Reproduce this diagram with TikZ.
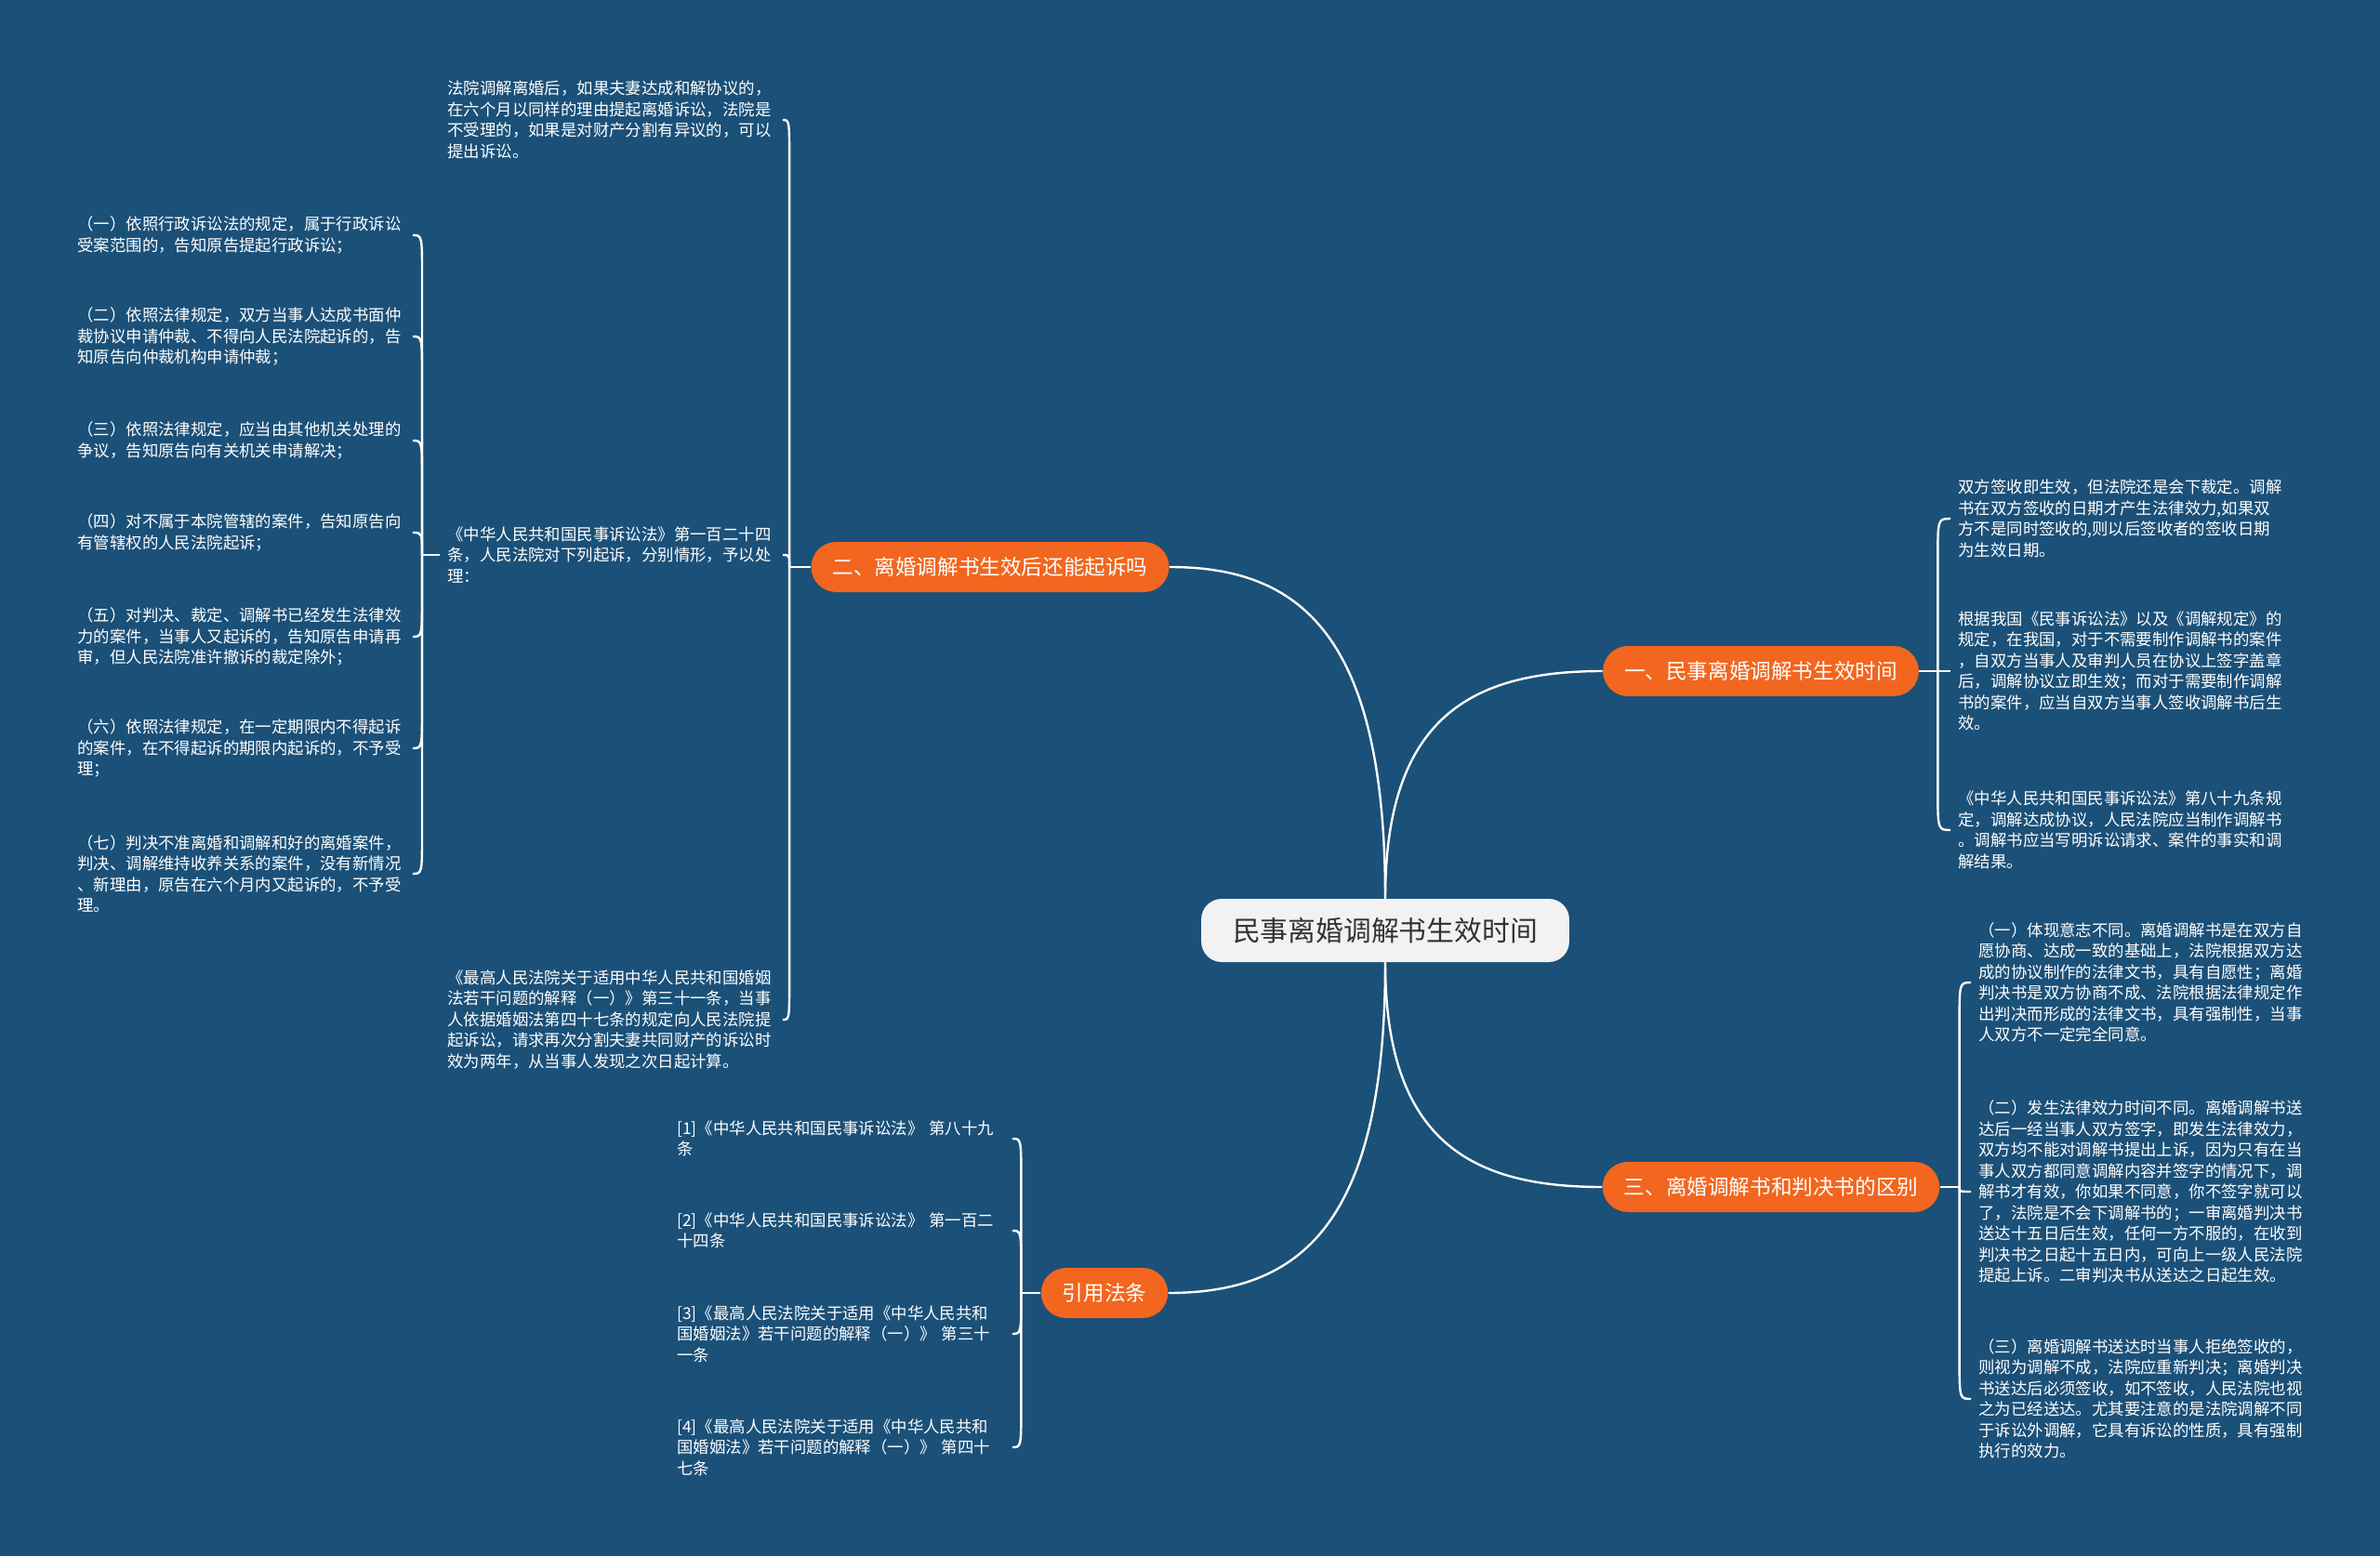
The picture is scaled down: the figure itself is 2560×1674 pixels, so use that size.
\documentclass[tikz,border=0pt]{standalone}
\usepackage{fontspec}
\newfontfamily\cjk{Noto Sans CJK SC}
\usetikzlibrary{calc}
\definecolor{bg}{HTML}{1B5078}
\definecolor{org}{HTML}{F2661F}
\definecolor{cfill}{HTML}{F2F2F2}
\definecolor{ctext}{HTML}{333333}
\newcommand\kidL[3]{\draw[conn] (#1) -- ($(#1|-#2.east)+(0,#3)$) .. controls (#1|-#2.east) .. (#2.east);}
\newcommand\kidR[3]{\draw[conn] (#1) -- ($(#1|-#2.west)+(0,#3)$) .. controls (#1|-#2.west) .. (#2.west);}
\begin{document}
\begin{tikzpicture}[x=0.5pt,y=-0.5pt,
  conn/.style={draw=white, line width=1.2pt},
  leaf/.style={anchor=west, text=white, font=\cjk\fontsize{8.7pt}{11.25pt}\selectfont, align=left, text width=176pt, inner xsep=4pt, inner ysep=0pt},
  branchbox/.style={fill=org, text=white, font=\cjk\fontsize{11.3pt}{13pt}\selectfont, rounded corners=13.5pt, minimum height=27pt, inner xsep=11.5pt, inner ysep=0pt},
  rootbox/.style={fill=cfill, text=ctext, font=\cjk\fontsize{14.9pt}{17pt}\selectfont, rounded corners=11pt, minimum height=34pt, inner xsep=17pt, inner ysep=0pt}]
\fill[bg] (0,0) rectangle (2560,1674);
\useasboundingbox (0,0) rectangle (2560,1674);

% root and branches
\node[rootbox] (c) at (1490,1001) {民事离婚调解书生效时间};
\node[branchbox] (b2) at (1065,610) {二、离婚调解书生效后还能起诉吗};
\node[branchbox] (b1) at (1894,722) {一、民事离婚调解书生效时间};
\node[branchbox] (b3) at (1905,1277) {三、离婚调解书和判决书的区别};
\node[branchbox] (bc) at (1188,1391) {引用法条};

\draw[conn] (c.north) .. controls ($(c.north)!0.8!(c.north|-b2.east)$) and ($(b2.east)!0.6!(b2.east-|c.north)$) .. (b2.east);
\draw[conn] (c.north) .. controls ($(c.north)!0.8!(c.north|-b1.west)$) and ($(b1.west)!0.6!(b1.west-|c.north)$) .. (b1.west);
\draw[conn] (c.south) .. controls ($(c.south)!0.8!(c.south|-b3.west)$) and ($(b3.west)!0.6!(b3.west-|c.south)$) .. (b3.west);
\draw[conn] (c.south) .. controls ($(c.south)!0.8!(c.south|-bc.east)$) and ($(bc.east)!0.6!(bc.east-|c.south)$) .. (bc.east);

% branch 二 children
\node[leaf] (A) at (473,129) {法院调解离婚后，如果夫妻达成和解协议的，\\在六个月以同样的理由提起离婚诉讼，法院是\\不受理的，如果是对财产分割有异议的，可以\\提出诉讼。};
\node[leaf] (B) at (473,597) {《中华人民共和国民事诉讼法》第一百二十四\\条，人民法院对下列起诉，分别情形，予以处\\理：};
\node[leaf] (C) at (473,1097) {《最高人民法院关于适用中华人民共和国婚姻\\法若干问题的解释（一）》第三十一条，当事\\人依据婚姻法第四十七条的规定向人民法院提\\起诉讼，请求再次分割夫妻共同财产的诉讼时\\效为两年，从当事人发现之次日起计算。};
\coordinate (j2) at ($(b2.west)+(-23,0)$);
\draw[conn] (b2.west) -- (j2);
\kidL{j2}{A}{45}
\kidL{j2}{B}{13}
\kidL{j2}{C}{-45}

% items under B
\node[leaf] (I1) at (75,253) {（一）依照行政诉讼法的规定，属于行政诉讼\\受案范围的，告知原告提起行政诉讼；};
\node[leaf] (I2) at (75,362) {（二）依照法律规定，双方当事人达成书面仲\\裁协议申请仲裁、不得向人民法院起诉的，告\\知原告向仲裁机构申请仲裁；};
\node[leaf] (I3) at (75,474) {（三）依照法律规定，应当由其他机关处理的\\争议，告知原告向有关机关申请解决；};
\node[leaf] (I4) at (75,573) {（四）对不属于本院管辖的案件，告知原告向\\有管辖权的人民法院起诉；};
\node[leaf] (I5) at (75,685) {（五）对判决、裁定、调解书已经发生法律效\\力的案件，当事人又起诉的，告知原告申请再\\审，但人民法院准许撤诉的裁定除外；};
\node[leaf] (I6) at (75,805) {（六）依照法律规定，在一定期限内不得起诉\\的案件，在不得起诉的期限内起诉的，不予受\\理；};
\node[leaf] (I7) at (75,940) {（七）判决不准离婚和调解和好的离婚案件，\\判决、调解维持收养关系的案件，没有新情况\\、新理由，原告在六个月内又起诉的，不予受\\理。};
\coordinate (jB) at ($(B.west)+(-19,0)$);
\draw[conn] (B.west) -- (jB);
\kidL{jB}{I1}{45}
\kidL{jB}{I2}{45}
\kidL{jB}{I3}{45}
\kidL{jB}{I4}{24}
\kidL{jB}{I5}{-45}
\kidL{jB}{I6}{-45}
\kidL{jB}{I7}{-45}

% branch 一 children
\node[leaf] (R1) at (2098,558) {双方签收即生效，但法院还是会下裁定。调解\\书在双方签收的日期才产生法律效力,如果双\\方不是同时签收的,则以后签收者的签收日期\\为生效日期。};
\node[leaf] (R2) at (2098,722) {根据我国《民事诉讼法》以及《调解规定》的\\规定，在我国，对于不需要制作调解书的案件\\，自双方当事人及审判人员在协议上签字盖章\\后，调解协议立即生效；而对于需要制作调解\\书的案件，应当自双方当事人签收调解书后生\\效。};
\node[leaf] (R3) at (2098,893) {《中华人民共和国民事诉讼法》第八十九条规\\定，调解达成协议，人民法院应当制作调解书\\。调解书应当写明诉讼请求、案件的事实和调\\解结果。};
\coordinate (j1) at ($(b1.east)+(20,0)$);
\draw[conn] (b1.east) -- (j1);
\kidR{j1}{R1}{45}
\draw[conn] (j1) -- (R2.west);
\kidR{j1}{R3}{-45}

% branch 三 children
\node[leaf] (T1) at (2120,1057) {（一）体现意志不同。离婚调解书是在双方自\\愿协商、达成一致的基础上，法院根据双方达\\成的协议制作的法律文书，具有自愿性；离婚\\判决书是双方协商不成、法院根据法律规定作\\出判决而形成的法律文书，具有强制性，当事\\人双方不一定完全同意。};
\node[leaf] (T2) at (2120,1282) {（二）发生法律效力时间不同。离婚调解书送\\达后一经当事人双方签字，即发生法律效力，\\双方均不能对调解书提出上诉，因为只有在当\\事人双方都同意调解内容并签字的情况下，调\\解书才有效，你如果不同意，你不签字就可以\\了，法院是不会下调解书的；一审离婚判决书\\送达十五日后生效，任何一方不服的，在收到\\判决书之日起十五日内，可向上一级人民法院\\提起上诉。二审判决书从送达之日起生效。};
\node[leaf] (T3) at (2120,1505) {（三）离婚调解书送达时当事人拒绝签收的，\\则视为调解不成，法院应重新判决；离婚判决\\书送达后必须签收，如不签收，人民法院也视\\之为已经送达。尤其要注意的是法院调解不同\\于诉讼外调解，它具有诉讼的性质，具有强制\\执行的效力。};
\coordinate (j3) at ($(b3.east)+(21,0)$);
\draw[conn] (b3.east) -- (j3);
\kidR{j3}{T1}{45}
\kidR{j3}{T2}{-5}
\kidR{j3}{T3}{-45}

% citations
\node[leaf] (C1) at (720,1225) {[1]《中华人民共和国民事诉讼法》 第八十九\\条};
\node[leaf] (C2) at (720,1324) {[2]《中华人民共和国民事诉讼法》 第一百二\\十四条};
\node[leaf] (C3) at (720,1435) {[3]《最高人民法院关于适用《中华人民共和\\国婚姻法》若干问题的解释（一）》 第三十\\一条};
\node[leaf] (C4) at (720,1557) {[4]《最高人民法院关于适用《中华人民共和\\国婚姻法》若干问题的解释（一）》 第四十\\七条};
\coordinate (jc) at ($(bc.west)+(-21,0)$);
\draw[conn] (bc.west) -- (jc);
\kidL{jc}{C1}{45}
\kidL{jc}{C2}{45}
\kidL{jc}{C3}{-44}
\kidL{jc}{C4}{-45}
\end{tikzpicture}
\end{document}
